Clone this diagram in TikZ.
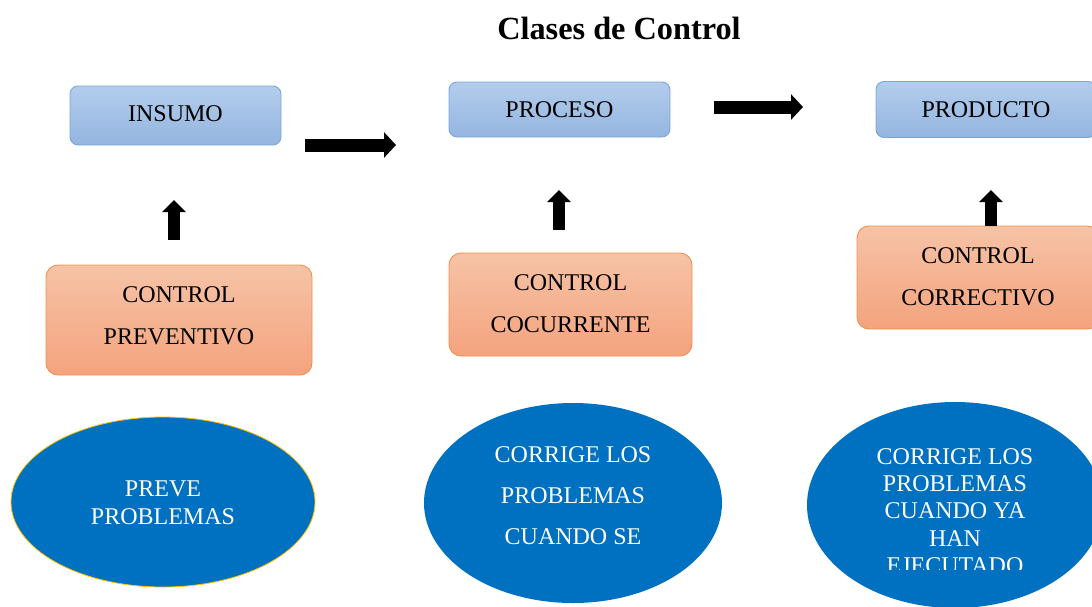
\documentclass[tikz,border=0pt]{standalone}
\usepackage{fontspec}
\setmainfont{Liberation Serif}
\usetikzlibrary{arrows.meta,shapes.geometric}
\definecolor{bluetop}{HTML}{B3CDEC}
\definecolor{bluebot}{HTML}{94B5E0}
\definecolor{blueline}{HTML}{7BA6DA}
\definecolor{orgtop}{HTML}{F6C3A6}
\definecolor{orgbot}{HTML}{F4A37E}
\definecolor{orgline}{HTML}{F0904F}
\definecolor{ellblue}{HTML}{0070C0}
\definecolor{gold}{HTML}{FFC000}
\tikzset{
  inbox/.style={draw=blueline, line width=0.9pt, rounded corners=8pt, top color=bluetop, bottom color=bluebot, font=\fontsize{24}{28}\selectfont, inner sep=0pt},
  ctlbox/.style={draw=orgline, line width=0.9pt, rounded corners=12pt, top color=orgtop, bottom color=orgbot, align=center, font=\fontsize{24}{42}\selectfont, inner sep=0pt, text depth=8pt},
  ell/.style={ellipse, fill=ellblue, inner sep=0pt},
  elltext/.style={text=white, align=center, inner sep=0pt},
  harrow/.style={line width=13pt, -{Triangle[width=25pt,length=12pt]}},
  varrow/.style={line width=12pt, -{Triangle[width=23pt,length=12pt]}},
}
\begin{document}
\begin{tikzpicture}[x=1pt,y=-1pt]
\useasboundingbox (0,0) rectangle (1092,606);
\node[font=\fontsize{32.3}{38}\selectfont\bfseries] (title) at (619,28) {Clases de Control};
% top boxes
\node[inbox, minimum width=211pt, minimum height=59pt, text depth=3pt] (insumo) at (175.5,115.5) {INSUMO};
\node[inbox, minimum width=221pt, minimum height=55pt] (proceso) at (559.5,109.5) {PROCESO};
\node[inbox, minimum width=220pt, minimum height=56pt] (producto) at (986,109.5) {PRODUCTO};
% control boxes
\node[ctlbox, minimum width=266pt, minimum height=110pt] (prev) at (179,320) {CONTROL\\PREVENTIVO};
\node[ctlbox, minimum width=243pt, minimum height=103pt, text depth=2pt] (conc) at (570.5,304.5) {CONTROL\\COCURRENTE};
\node[ctlbox, minimum width=242pt, minimum height=103pt, text depth=1pt] (corr) at (978,277.5) {CONTROL\\CORRECTIVO};
% block arrows
\coordinate (a1s) at (305,145); \coordinate (a1e) at (396,145);
\coordinate (a2s) at (714,107); \coordinate (a2e) at (803,107);
\coordinate (u1s) at (174,240); \coordinate (u1e) at (174,200);
\coordinate (u2s) at (559,230); \coordinate (u2e) at (559,190);
\coordinate (u3s) at (991,226); \coordinate (u3e) at (991,190);
\draw[harrow] (a1s) -- (a1e);
\draw[harrow] (a2s) -- (a2e);
\draw[varrow] (u1s) -- (u1e);
\draw[varrow] (u2s) -- (u2e);
\draw[varrow] (u3s) -- (u3e);
% ellipses
\node[ell, draw=gold, line width=0.8pt, minimum width=304pt, minimum height=170pt] (e1) at (163,502) {};
\node[elltext, font=\fontsize{24}{28}\selectfont] (t1) at (163,503) {PREVE\\PROBLEMAS};
\node[ell, minimum width=298pt, minimum height=200pt] (e2) at (573,503) {};
\node[elltext, font=\fontsize{24}{41}\selectfont] (t2) at (573,496) {CORRIGE LOS\\PROBLEMAS\\CUANDO SE};
\node[ell, minimum width=296pt, minimum height=206pt] (e3) at (955,505) {};
\begin{scope}
\clip (800,430) rectangle (1092,569);
\node[elltext, font=\fontsize{24}{27.3}\selectfont] (t3) at (955,511) {CORRIGE LOS\\PROBLEMAS\\CUANDO YA\\HAN\\EJECUTADO};
\end{scope}
\end{tikzpicture}
\end{document}
